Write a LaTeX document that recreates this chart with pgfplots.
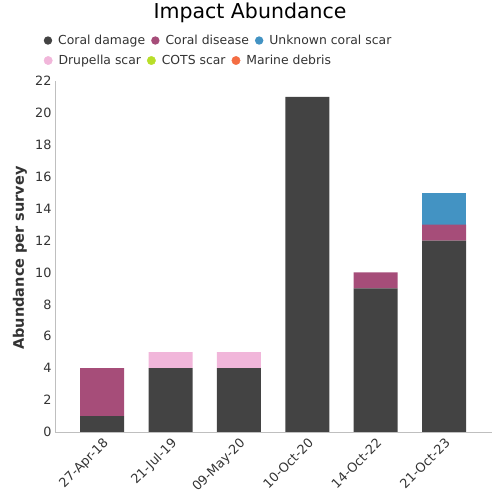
\documentclass[border=0pt]{standalone}
\usepackage{pgfplots}
\pgfplotsset{compat=1.18}
\usepackage{fontspec}
\setmainfont{DejaVu Sans}
\definecolor{cdam}{HTML}{434343}
\definecolor{cdis}{HTML}{A64D79}
\definecolor{cunk}{HTML}{4393C3}
\definecolor{cdru}{HTML}{F1B6DA}
\definecolor{ccot}{HTML}{B8DE29}
\definecolor{cmar}{HTML}{F46D43}
\definecolor{txt}{HTML}{333333}
\pgfplotsset{
  lgstyle/.style={legend style={draw=none, fill=none, font=\fontsize{12.4}{14}\selectfont\color{txt},
    legend cell align=left,
    /tikz/every odd column/.append style={column sep=5pt},
    /tikz/every even column/.append style={column sep=5pt},
    nodes={inner sep=1pt}}},
  dot/.style={legend image code/.code={\fill[#1] (0pt,0pt) circle (4.2pt);}},
}
\begin{document}
\begin{tikzpicture}
\useasboundingbox (0pt,0pt) rectangle (500pt,500pt);
\node[font=\fontsize{20.5}{24}\selectfont, text=black] at (250pt,487pt) {Impact Abundance};
\node[rotate=90, font=\fontsize{14.5}{17}\selectfont\bfseries, text=txt] at (20pt,242pt) {Abundance per survey};
\begin{axis}[
  at={(55pt,68pt)}, anchor=south west, scale only axis,
  width=437pt, height=351pt,
  ybar stacked, bar width=44pt,
  xmin=-0.69, xmax=5.7, ymin=0, ymax=22,
  ytick={0,2,...,22},
  xtick={0,1,2,3,4,5},
  xticklabels={27-Apr-18,21-Jul-19,09-May-20,10-Oct-20,14-Oct-22,21-Oct-23},
  x tick label style={rotate=45, anchor=north east},
  axis x line*=bottom, axis y line*=left,
  axis line style={black!25},
  major tick length=0pt,
  tick label style={font=\fontsize{12.8}{15}\selectfont, text=txt},
  /pgf/number format/assume math mode=true,
  clip=false,
  lgstyle, legend columns=3,
  legend style={at={(-0.033,1.14)}, anchor=north west},
]
\addplot[fill=cdam, draw=none, dot=cdam] coordinates {(0,1) (1,4) (2,4) (3,21) (4,9) (5,12)};
\addlegendentry{Coral damage}
\addplot[fill=cdis, draw=none, dot=cdis] coordinates {(0,3) (1,0) (2,0) (3,0) (4,1) (5,1)};
\addlegendentry{Coral disease}
\addplot[fill=cunk, draw=none, dot=cunk] coordinates {(0,0) (1,0) (2,0) (3,0) (4,0) (5,2)};
\addlegendentry{Unknown coral scar}
\addplot[fill=cdru, draw=none] coordinates {(0,0) (1,1) (2,1) (3,0) (4,0) (5,0)};
\end{axis}
\begin{axis}[
  at={(55pt,68pt)}, anchor=south west, scale only axis,
  width=437pt, height=351pt, hide axis,
  xmin=0, xmax=1, ymin=0, ymax=1,
  lgstyle, legend columns=3,
  legend style={at={(-0.033,1.083)}, anchor=north west},
]
\addlegendimage{dot=cdru}
\addlegendentry{Drupella scar}
\addlegendimage{dot=ccot}
\addlegendentry{COTS scar}
\addlegendimage{dot=cmar}
\addlegendentry{Marine debris}
\end{axis}
\end{tikzpicture}
\end{document}
